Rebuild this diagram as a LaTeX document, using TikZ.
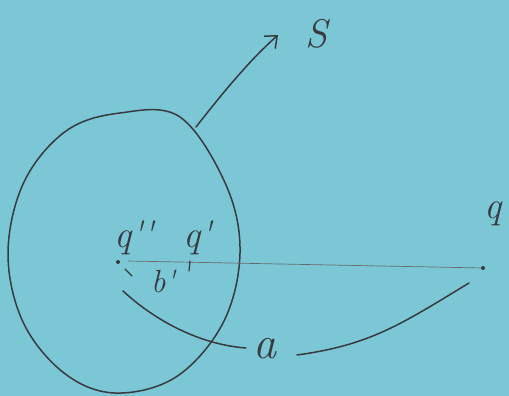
\documentclass[tikz,border=0pt]{standalone}
\usetikzlibrary{arrows.meta}
\definecolor{paper}{RGB}{124,199,214}
\definecolor{pencil}{RGB}{55,58,62}
\newcommand{\pr}{\textquotesingle}
\tikzset{
  pen/.style={draw=pencil, line width=1.5pt, line cap=round, line join=round},
  thinpen/.style={draw=pencil!75, line width=0.7pt},
  lbl/.style={text=pencil, font=\fontsize{38}{38}\selectfont\itshape, inner sep=0pt},
  dotmark/.style={circle, fill=pencil, inner sep=0pt, minimum size=4pt}
}
\begin{document}
\begin{tikzpicture}[x=1pt,y=-1pt]
\fill[paper] (0,0) rectangle (509,396);
\useasboundingbox (0,0) rectangle (509,396);
% sphere outline
\draw[pen] plot[smooth cycle, tension=0.6] coordinates {
 (180,117) (120,113) (66,131) (24,182) (8,253) (23,322) (64,373)
 (115,393) (176,377) (223,323) (240,253) (226,185)};
% points
\node[dotmark] (qpp) at (118,262) {};
\node[dotmark] (q) at (483,268) {};
\node[lbl] (lqpp) at (134,238) {q\pr\pr};
\node[lbl] (lqp) at (198,238) {q\pr};
\node[lbl] (lq) at (493,214) {q};
\coordinate (lstart) at (128,261);
\draw[thinpen] (lstart) -- (q);
% b' marks
\coordinate (b1) at (125,269);
\coordinate (b2) at (132,276);
\draw[pen, line width=1.2pt] (b1) -- (b2);
\node[lbl, font=\fontsize{32}{32}\selectfont\itshape] (lb) at (163,281) {b\pr};
\coordinate (t1) at (190,261);
\coordinate (t2) at (189,271);
\draw[pen, line width=1.2pt] (t1) -- (t2);
% a curves
\coordinate (a1) at (123,291);
\coordinate (a2) at (246,348);
\draw[pen] (a1) .. controls (160,325) and (205,345) .. (a2);
\node[lbl, font=\fontsize{46}{46}\selectfont\itshape] (la) at (265,349) {a};
\coordinate (a3) at (297,355);
\coordinate (a4) at (469,283);
\draw[pen] (a3) .. controls (370,345) and (400,325) .. (a4);
% S arrow
\coordinate (s0) at (196,127);
\coordinate (s1) at (278,35);
\draw[pen, -{Straight Barb[length=10pt,width=20pt,angle'=80]}] (s0) .. controls (225,90) and (250,60) .. (s1);
\node[lbl, font=\fontsize{40}{40}\selectfont\itshape] (ls) at (316,34) {S};
\end{tikzpicture}
\end{document}
